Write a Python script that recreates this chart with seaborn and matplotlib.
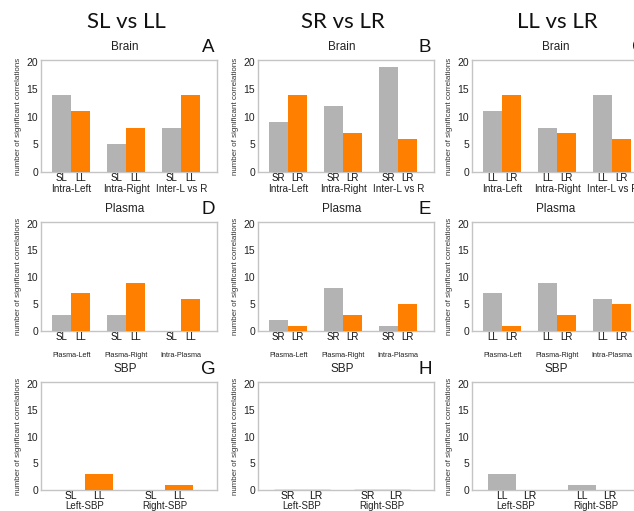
import pandas as pd
import matplotlib
matplotlib.use("Agg")
import matplotlib.pyplot as plt
import seaborn as sns

# column comparisons and their two groups (first = gray, second = orange)
comparisons = ["SL vs LL", "SR vs LR", "LL vs LR"]
pair_labels = [["SL", "LL"], ["SR", "LR"], ["LL", "LR"]]

row_names = ["Brain", "Plasma", "SBP"]
brain_regions = ["Intra-Left", "Intra-Right", "Inter-L vs R"]
plasma_regions = ["Plasma-Left", "Plasma-Right", "Intra-Plasma"]
sbp_regions = ["Left-SBP", "Right-SBP"]
panel_letters = ["A", "B", "C", "D", "E", "F", "G", "H", "I"]

# number of significant correlations
brain_sl = [14, 5, 8]
brain_ll_vs_sl = [11, 8, 14]
brain_sr = [9, 12, 19]
brain_lr_vs_sr = [14, 7, 6]
brain_ll = [11, 8, 14]
brain_lr_vs_ll = [14, 7, 6]

plasma_sl = [3, 3, 0]
plasma_ll_vs_sl = [7, 9, 6]
plasma_sr = [2, 8, 1]
plasma_lr_vs_sr = [1, 3, 5]
plasma_ll = [7, 9, 6]
plasma_lr_vs_ll = [1, 3, 5]

sbp_sl = [0, 0]
sbp_ll_vs_sl = [3, 1]
sbp_sr = [0, 0]
sbp_lr_vs_sr = [0, 0]
sbp_ll = [3, 1]
sbp_lr_vs_ll = [0, 0]

panels = [
    [(brain_sl, brain_ll_vs_sl), (brain_sr, brain_lr_vs_sr), (brain_ll, brain_lr_vs_ll)],
    [(plasma_sl, plasma_ll_vs_sl), (plasma_sr, plasma_lr_vs_sr), (plasma_ll, plasma_lr_vs_ll)],
    [(sbp_sl, sbp_ll_vs_sl), (sbp_sr, sbp_lr_vs_sr), (sbp_ll, sbp_lr_vs_ll)],
]
regions = [brain_regions, plasma_regions, sbp_regions]

GRAY = "#b3b3b3"
ORANGE = "#ff8000"

sns.set_theme(style="white")
plt.rcParams["font.family"] = ["Liberation Sans", "DejaVu Sans"]

W, H = 634, 511
fig = plt.figure(figsize=(W / 100, H / 100), dpi=100)

col_left = [41, 258, 472]
col_w = 176
row_top = [60, 222, 382]
row_bot = [172, 331, 490]

# per-row text styling: (sublabel size, group label size, group label pad)
row_style = [(7, 7.2, 9), (7, 5.2, 15), (7.5, 7, 7.8)]

for r in range(3):
    for c in range(3):
        first, second = panels[r][c]
        labs = pair_labels[c]
        df = pd.DataFrame({
            "region": regions[r] * 2,
            "group": [labs[0]] * len(first) + [labs[1]] * len(second),
            "count": list(first) + list(second),
        })
        left, top, bot = col_left[c], row_top[r], row_bot[r]
        ax = fig.add_axes([left / W, 1 - bot / H, col_w / W, (bot - top) / H])
        panel_h = (r == 2 and c == 1)
        sns.barplot(data=df, x="region", y="count", hue="group", hue_order=labs,
                    order=regions[r], palette=[GRAY, ORANGE], saturation=1,
                    width=0.69, gap=0, errorbar=None, legend=False, ax=ax,
                    edgecolor="0.3" if panel_h else "none",
                    linewidth=0.9 if panel_h else 0, zorder=3)
        n = len(regions[r])
        ax.set_xlim(-0.55, n - 1 + 0.65)
        ax.set_ylim(0, 20.3)
        ax.set_yticks([0, 5, 10, 15, 20])
        sub_fs, grp_fs, grp_pad = row_style[r]
        ax.tick_params(axis="y", length=0, pad=2, labelsize=7.5, colors="#222222")
        ax.tick_params(axis="x", length=0, pad=grp_pad, labelsize=grp_fs, colors="#222222")
        ax.set_xlabel("")
        ax.set_ylabel("number of significant correlations", fontsize=5.8, labelpad=3,
                      color="#333333")
        for sp in ax.spines.values():
            sp.set_color("#c4c4c4")
            sp.set_linewidth(1.0)

        # group labels under each bar
        for cont, lab in zip(ax.containers, labs):
            for p in cont.patches:
                xc = p.get_x() + p.get_width() / 2
                ax.annotate(lab, xy=(xc, 0), xycoords=ax.get_xaxis_transform(),
                            xytext=(0, -0.5), textcoords="offset points",
                            ha="center", va="top", fontsize=sub_fs, color="#111111")

        # panel title and letter
        fig.text((left + col_w / 2 - 4) / W, 1 - (top - 13) / H, row_names[r],
                 ha="center", va="center", fontsize=8.5, color="#222222")
        fig.text((left + col_w - 9) / W, 1 - (top - 13) / H, panel_letters[r * 3 + c],
                 ha="center", va="center", fontsize=13.5, color="#111111")

for c in range(3):
    fig.text((col_left[c] + col_w / 2 - 3) / W, 1 - 22 / H, comparisons[c],
             ha="center", va="center", fontsize=16, family=["Lato", "DejaVu Sans"],
             color="#111111")

fig.savefig("out.png", dpi=100)
